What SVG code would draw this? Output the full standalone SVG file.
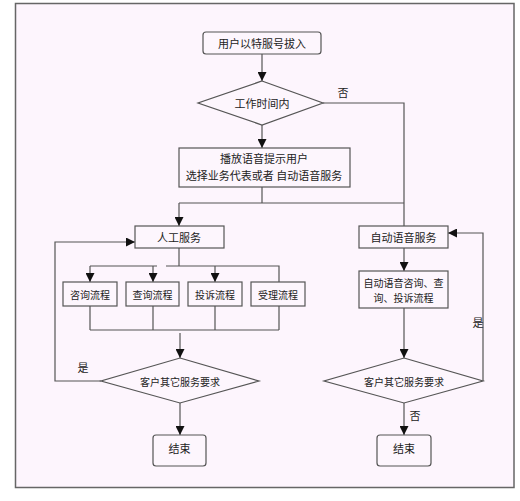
<svg xmlns="http://www.w3.org/2000/svg" width="520" height="501" viewBox="0 0 520 501">
<style>
.n{fill:#fdf6fd;stroke:#555;stroke-width:1.2}
.c{fill:none;stroke:#555;stroke-width:1.2}
.a{fill:none;stroke:#555;stroke-width:1.2;marker-end:url(#ah)}
text{font-family:"Noto Sans CJK SC","Liberation Sans",sans-serif;font-size:11px;fill:#222;text-anchor:middle;dominant-baseline:central}
.s{font-size:10px}
</style>
<defs>
<marker id="ah" viewBox="0 0 10 10" refX="10" refY="5" markerWidth="9" markerHeight="9" markerUnits="userSpaceOnUse" orient="auto">
<path d="M0,0 L10,5 L0,10 z" fill="#111"/>
</marker>
</defs>
<rect x="0" y="0" width="520" height="501" fill="#ffffff"/>
<rect x="15.5" y="3.5" width="498.5" height="484" fill="#fdf5fd" stroke="#666" stroke-width="1.5"/>

<g id="connectors">
<path class="a" d="M262,54 V81"/>
<path class="c" d="M323,103 H404 V226"/>
<path class="a" d="M262,125 V148"/>
<path class="c" d="M262,187 V203"/>
<path class="c" d="M179,203 H404"/>
<path class="a" d="M179,203 V226"/>
<path class="c" d="M179,248 V266"/>
<path class="c" d="M90,266 H157"/>
<path class="c" d="M166,266 H279 V282"/>
<path class="a" d="M90,266 V282"/>
<path class="a" d="M153,266 V282"/>
<path class="a" d="M215,266 V282"/>
<path class="c" d="M90,306 V330 M153,306 V330 M215,306 V330 M279,306 V330 M90,330 H279"/>
<path class="a" d="M180,333 V358"/>
<path class="a" d="M101,381 H55 V242 H135"/>
<path class="a" d="M180,403 V435"/>
<path class="a" d="M404,248 V271"/>
<path class="a" d="M404,308 V358"/>
<path class="a" d="M483,381 V233 H448"/>
<path class="a" d="M404,403 V435"/>
<text x="343" y="92">否</text>
<text x="83" y="367">是</text>
<text x="478" y="322">是</text>
<text x="415" y="415">否</text>
</g>

<g id="start"><rect class="n" x="203" y="32" width="118" height="22" rx="3"/><text x="262" y="43">用户以特服号拔入</text></g>
<g id="worktime"><polygon class="n" points="262,81 323,103 262,125 198,103"/><text x="262" y="103">工作时间内</text></g>
<g id="prompt"><rect class="n" x="179" y="148" width="171" height="39"/><text x="264" y="158">播放语音提示用户</text><text x="264" y="175">选择业务代表或者 自动语音服务</text></g>
<g id="manual"><rect class="n" x="135" y="226" width="89" height="22"/><text x="179" y="237">人工服务</text></g>
<g id="consult"><rect class="n" x="63" y="282" width="54" height="24"/><text class="s" x="90" y="294">咨询流程</text></g>
<g id="query"><rect class="n" x="126" y="282" width="53" height="24"/><text class="s" x="152.5" y="294">查询流程</text></g>
<g id="complain"><rect class="n" x="188" y="282" width="54" height="24"/><text class="s" x="215" y="294">投诉流程</text></g>
<g id="accept"><rect class="n" x="251" y="282" width="54" height="24"/><text class="s" x="278" y="294">受理流程</text></g>
<g id="other-left"><polygon class="n" points="180,358 259,381 180,403 101,381"/><text class="s" x="180" y="381">客户其它服务要求</text></g>
<g id="end-left"><rect class="n" x="153" y="435" width="53" height="31" rx="3"/><text x="179.5" y="448">结束</text></g>
<g id="auto"><rect class="n" x="359" y="226" width="89" height="22"/><text x="403.5" y="237">自动语音服务</text></g>
<g id="auto-flow"><rect class="n" x="359" y="271" width="89" height="37"/><text class="s" x="403.5" y="282">自动语音咨询、查</text><text class="s" x="403.5" y="297">询、投诉流程</text></g>
<g id="other-right"><polygon class="n" points="404,358 483,381 404,403 324,381"/><text class="s" x="404" y="381">客户其它服务要求</text></g>
<g id="end-right"><rect class="n" x="377" y="435" width="54" height="31" rx="3"/><text x="404" y="448">结束</text></g>
</svg>
